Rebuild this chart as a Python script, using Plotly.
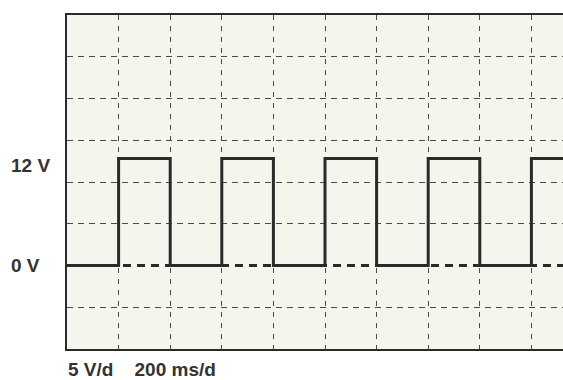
import plotly.graph_objects as go

# Data (time in ms, voltage in V)
times_ms = [0, 200, 400, 600, 800, 1000, 1200, 1400, 1600, 1800, 1925]
volts = [0, 12.8, 0, 12.8, 0, 12.8, 0, 12.8, 0, 12.8, 12.8]
baseline_t = [0, 1925]
baseline_v = [0, 0]
label_vals = [0, 12]
label_text = ["0 V", "12 V"]
scale_text = "5 V/d&nbsp;&nbsp;&nbsp; 200 ms/d"

W, H = 563, 380
L, R, T = 67, 0, 15
B = H - 349
PW, PH = W - L - R, H - T - B
x_end = (W - L) / 51.6 * 200

fig = go.Figure()
fig.add_trace(go.Scatter(x=baseline_t, y=baseline_v, mode="lines",
                         line=dict(color="#2a2a2a", width=3, dash="8px,6px"),
                         hoverinfo="skip", showlegend=False))
fig.add_trace(go.Scatter(x=times_ms, y=volts, mode="lines", line_shape="hv",
                         line=dict(color="#2a2a2a", width=3),
                         showlegend=False))

fig.update_xaxes(range=[0, x_end], tickvals=list(range(200, 2000, 200)),
                 showticklabels=False, ticks="", showgrid=True,
                 gridcolor="#4a4a4a", gridwidth=1, griddash="5px,6px",
                 zeroline=False, showline=True, linecolor="#2a2a2a",
                 linewidth=2, mirror=True)
fig.update_yaxes(range=[-10, 30], tickvals=[-5, 5, 10, 15, 20, 25],
                 showticklabels=False, ticks="", showgrid=True,
                 gridcolor="#4a4a4a", gridwidth=1, griddash="6px,5px",
                 zeroline=False, showline=True, linecolor="#2a2a2a",
                 linewidth=2)

font = dict(family="Liberation Sans, Arial", size=19, color="#333333",
            weight="bold")
for v, t in zip(label_vals, label_text):
    fig.add_annotation(x=(9 - L) / PW, xref="paper", y=v, yref="y",
                       text=t, showarrow=False, xanchor="left",
                       yanchor="middle", font=font)

fig.add_annotation(x=(66 - L) / PW, xref="paper",
                   y=-(369 - 349) / PH, yref="paper",
                   text=scale_text, showarrow=False, xanchor="left",
                   yanchor="middle", font=font)

fig.update_layout(width=W, height=H, margin=dict(l=L, r=R, t=T, b=B),
                  plot_bgcolor="#f4f5ec", paper_bgcolor="white")

fig.write_html(
    "out.html",
    config={"displayModeBar": False},
    post_script="document.body.style.margin='0';"
                "document.body.style.overflow='hidden';",
)
